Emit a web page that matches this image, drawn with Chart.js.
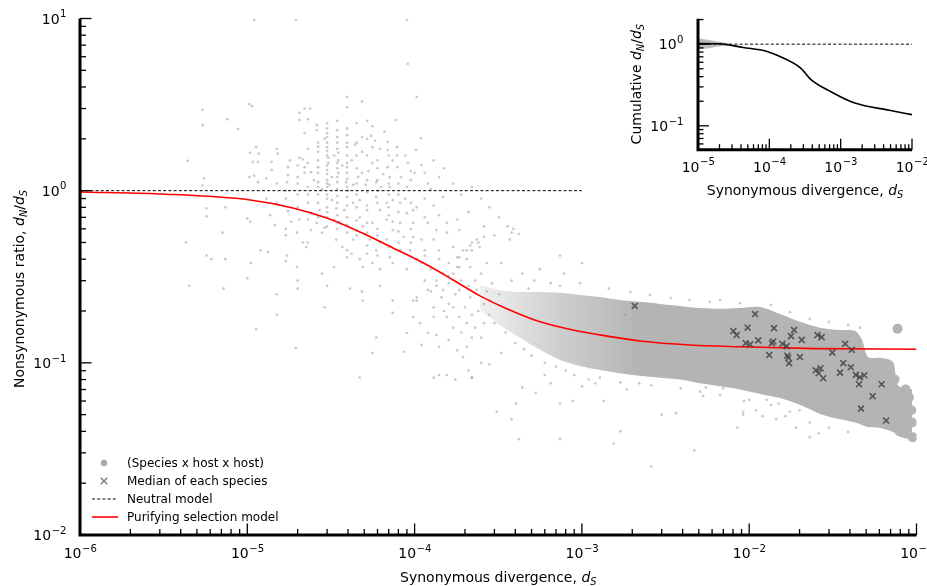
<!DOCTYPE html>
<html><head><meta charset="utf-8">
<script src="https://cdn.jsdelivr.net/npm/chart.js@4"></script>
<style>
html,body{margin:0;padding:0;background:#fff;}
#wrap{position:relative;width:927px;height:586px;overflow:hidden;}
#main{position:absolute;left:0;top:0;}
#inset{position:absolute;left:600px;top:0;}
</style></head><body>
<div id="wrap">
<canvas id="main" width="927" height="586"></canvas>
<canvas id="inset" width="327" height="210"></canvas>
</div>
<script>
// ================= MAIN PLOT DATA =================
const xTickValues = [1e-6, 1e-5, 1e-4, 1e-3, 1e-2, 1e-1];
const xTickExps   = ['-6', '-5', '-4', '-3', '-2', '-1'];
const yTickValues = [1e-2, 1e-1, 1e0, 1e1];
const yTickExps   = ['-2', '-1', '0', '1'];

// Purifying selection model (red curve)
const purifyX = [1e-6, 3.0e-6, 1.04e-5, 1.87e-5, 2.99e-5, 4.72e-5, 7.43e-5, 1.19e-4, 1.70e-4, 2.46e-4, 3.56e-4, 5.62e-4, 8.85e-4, 1.41e-3, 2.22e-3, 4.43e-3, 8.81e-3, 2.5e-2, 0.1];
const purifyY = [0.983, 0.957, 0.883, 0.794, 0.693, 0.575, 0.465, 0.370, 0.303, 0.245, 0.206, 0.173, 0.155, 0.143, 0.134, 0.127, 0.124, 0.121, 0.120];

// Neutral model (dashed)
const neutralX = [1e-6, 1e-3];
const neutralY = [1, 1];

// Dense core of the (species x host x host) cloud
const coreX     = [2.46e-4, 3.24e-4, 4.26e-4, 5.62e-4, 7.40e-4, 9.75e-4, 1.28e-3, 1.69e-3, 2.22e-3, 2.93e-3, 3.86e-3, 5.08e-3, 6.68e-3, 8.81e-3, 1.16e-2, 1.53e-2, 2.01e-2, 2.65e-2, 3.49e-2, 4.29e-2, 4.72e-2, 5.13e-2, 6.05e-2, 7.24e-2, 7.74e-2, 9.40e-2];
const coreUpper = [0.283, 0.265, 0.258, 0.258, 0.255, 0.248, 0.241, 0.232, 0.226, 0.220, 0.214, 0.208, 0.206, 0.208, 0.211, 0.192, 0.173, 0.160, 0.155, 0.153, 0.136, 0.108, 0.107, 0.101, 0.074, 0.070];
const coreLower = [0.203, 0.166, 0.140, 0.119, 0.104, 0.096, 0.091, 0.087, 0.084, 0.082, 0.080, 0.076, 0.073, 0.070, 0.066, 0.0625, 0.057, 0.0505, 0.047, 0.045, 0.0436, 0.0424, 0.0419, 0.0397, 0.0376, 0.0357];

// Individual (species x host x host) points  [dS, dN/dS]
const pairPoints = [
[1.1e-5,9.8],[1.95e-5,9.8],[9.0e-5,9.8],[9.1e-5,5.45],[1.03e-4,3.5],
[5.4e-6,2.95],[5.4e-6,2.4],[7.6e-6,2.6],[8.8e-6,2.28],[4.4e-6,1.49],[5.5e-6,1.18],[5.4e-6,1.07],
[1.03e-5,3.18],[1.07e-5,3.1],[1.13e-5,1.79],[1.04e-5,1.66],[1.17e-5,1.64],[1.08e-5,1.47],[1.16e-5,1.47],[1.03e-5,1.2],[1.1e-5,1.22],[1.16e-5,1.12],[1.3e-5,1.18],[1.4e-5,1.47],[1.5e-5,1.75],[1.52e-5,1.64],[1.4e-5,1.32],
[2.05e-5,2.83],[2.2e-5,3.0],[2.37e-5,3.0],[2.05e-5,2.57],[2.2e-5,2.16],[2.15e-5,1.52],[2.2e-5,1.37],[2.2e-5,1.27],[1.8e-5,1.5],[1.75e-5,1.37],[1.75e-5,1.23],[1.73e-5,1.12],[2.0e-5,1.1],[2.05e-5,1.55],[2.4e-5,1.28],
[2.6e-5,2.4],[2.6e-5,2.25],[2.65e-5,1.9],[2.65e-5,1.68],[2.65e-5,1.37],[2.65e-5,1.27],[2.65e-5,1.12],
[3.0e-5,2.47],[3.0e-5,2.16],[3.0e-5,1.79],[3.05e-5,1.55],[3.05e-5,1.45],[3.0e-5,1.32],[3.0e-5,1.15],
[3.45e-5,2.54],[3.45e-5,2.25],[3.45e-5,1.9],[3.5e-5,1.66],[3.5e-5,1.5],[3.5e-5,1.27],
[3.95e-5,3.5],[3.95e-5,3.05],[3.95e-5,2.3],[3.95e-5,1.79],[3.95e-5,1.6],[3.95e-5,1.37],[3.95e-5,1.27],[3.9e-5,1.12],
[4.5e-5,2.47],[4.85e-5,3.3],[4.85e-5,2.05],[4.85e-5,1.68],[4.85e-5,1.27],[5.2e-5,2.54],[5.6e-5,2.37],[5.5e-5,2.08],[5.6e-5,1.79],[5.6e-5,1.45],[6.2e-5,1.75],[6.9e-5,1.92],[6.9e-5,1.72],[6.9e-5,1.37],[7.1e-5,1.2],[7.7e-5,2.57],[7.85e-5,1.79],[7.85e-5,1.6],[7.9e-5,1.37],[9.1e-5,1.45],[1.02e-4,1.72],[1.09e-4,2.02],[1.1e-4,1.41],[1.15e-4,1.27],[1.0e-4,1.27],[9.0e-5,1.05],[7.1e-5,1.05],[5.9e-5,1.12],[5.1e-5,1.08],[4.3e-5,1.08],[3.1e-5,1.08],[2.5e-5,1.15],[1.5e-5,1.1],
[3.2e-5,1.2],[3.7e-5,1.4],[4.2e-5,1.5],[4.6e-5,1.2],[5.3e-5,1.3],[6.0e-5,1.5],[6.5e-5,1.25],[7.4e-5,1.5],[8.3e-5,1.2],[6.3e-5,1.05],[4.0e-5,1.0],[2.8e-5,1.02],[3.3e-5,1.6],[4.4e-5,1.85],[5.8e-5,1.95],[8.8e-5,1.6],[9.5e-5,1.3],[1.2e-4,1.1],[1.3e-4,1.5],[1.4e-4,1.2],[2.3e-5,1.75],[2.9e-5,2.0],[6.6e-5,2.2],[1.25e-4,1.02],
[1.5e-4,1.35],[1.7e-4,1.1],[2.2e-4,1.05],[1.9e-4,0.95],[2.5e-4,0.9],[2.8e-4,0.8],[3.2e-4,0.7],[3.6e-4,0.62],[2.6e-4,0.62],[3.0e-4,0.55],[3.9e-4,0.6],[4.2e-4,0.56],
[3.0e-5,0.9],[3.0e-5,0.95],[3.0e-5,1.05],[3.0e-5,1.1],[3.0e-5,1.25],[3.0e-5,1.4],[3.0e-5,1.6],[3.0e-5,1.7],[3.0e-5,1.9],[3.0e-5,2.05],[3.0e-5,2.3],[3.0e-5,0.8],[3.0e-5,0.75],[3.0e-5,0.62],
[3.45e-5,0.85],[3.45e-5,0.93],[3.45e-5,1.02],[3.45e-5,1.12],[3.45e-5,1.2],[3.45e-5,1.35],[3.45e-5,1.45],[3.45e-5,1.75],[3.45e-5,2.05],[3.45e-5,0.72],[3.45e-5,0.6],
[2.65e-5,0.85],[2.65e-5,0.95],[2.65e-5,1.05],[2.65e-5,1.5],[2.65e-5,1.8],[2.65e-5,0.7],
[3.95e-5,0.82],[3.95e-5,0.92],[3.95e-5,1.05],[3.95e-5,1.17],[3.95e-5,1.45],[3.95e-5,1.9],[3.95e-5,2.1],[3.95e-5,0.7],[3.95e-5,0.63],
[4.5e-5,0.8],[4.5e-5,0.95],[4.5e-5,1.1],[4.5e-5,1.35],[4.5e-5,1.6],[4.5e-5,1.9],[4.5e-5,0.67],[4.5e-5,0.55],
[5.2e-5,0.82],[5.2e-5,0.98],[5.2e-5,1.15],[5.2e-5,1.6],[5.2e-5,2.0],[5.2e-5,0.65],[5.2e-5,0.48],
[6.0e-5,0.85],[6.0e-5,1.0],[6.0e-5,1.15],[6.0e-5,1.35],[6.0e-5,0.6],[6.0e-5,0.55],[6.0e-5,0.42],
[7.0e-5,0.8],[7.0e-5,0.95],[7.0e-5,1.1],[7.0e-5,1.6],[7.0e-5,0.72],[7.0e-5,0.47],
[8.0e-5,0.75],[8.0e-5,0.95],[8.0e-5,1.1],[8.0e-5,0.58],[8.0e-5,0.5],
[9.5e-5,0.85],[9.5e-5,1.15],[9.5e-5,0.6],[9.5e-5,0.5],[1.15e-4,0.7],[1.15e-4,0.9],[1.15e-4,0.45],[1.15e-4,0.42],[1.4e-4,0.72],[1.4e-4,0.45],[1.4e-4,0.4],
[2.0e-5,0.8],[2.0e-5,0.95],[2.0e-5,1.2],[2.0e-5,1.4],[2.3e-5,0.95],[2.3e-5,1.05],[2.3e-5,1.45],[2.3e-5,2.6],[1.7e-5,0.9],[1.7e-5,1.0],[1.7e-5,0.6],
[5.7e-6,0.71],[5.7e-6,0.79],[7.4e-6,0.8],[7.1e-6,0.57],[4.3e-6,0.5],[5.7e-6,0.42],[6.1e-6,0.4],[7.4e-6,0.4],[4.5e-6,0.28],[7.2e-6,0.27],[1.0e-5,0.69],[1.04e-5,0.66],[1.05e-5,0.38],[1.0e-5,0.31],[1.13e-5,0.157],[1.5e-5,0.25],[1.5e-5,0.19],[1.95e-5,0.122],[1.2e-5,0.45],[1.33e-5,0.44],[1.37e-5,0.72],[1.3e-5,0.9],[1.5e-5,0.85],[1.46e-5,0.63],[1.7e-5,0.55],[1.75e-5,0.76],[1.83e-5,0.66],[1.98e-5,0.57],[1.73e-5,0.42],[1.7e-5,0.39],[1.98e-5,0.36],[2.0e-5,0.3],[2.0e-5,0.27],[2.3e-5,0.5],[2.25e-5,0.47],[2.15e-5,0.5],[2.3e-5,0.68],[2.4e-5,0.74],[2.6e-5,0.65],[2.8e-5,0.57],[2.9e-5,0.61],[3.0e-5,0.7],[3.2e-5,0.88],[3.4e-5,0.79],[3.8e-5,0.77],[4.3e-5,0.85],[4.7e-5,0.7],[4.9e-5,0.62],[5.2e-5,0.57],[5.9e-5,0.92],[6.2e-5,0.77],[6.8e-5,0.85],[7.4e-5,0.66],[8.2e-5,0.85],[8.8e-5,0.9],[9.0e-5,0.74],[9.8e-5,0.65],[1.03e-4,0.8],[1.3e-4,0.82],[1.48e-4,0.92],[1.56e-4,0.65],[1.8e-4,0.68],[2.1e-4,0.75],
[3.4e-5,0.52],[3.7e-5,0.47],[3.95e-5,0.45],[4.2e-5,0.43],[3.95e-5,0.41],[4.7e-5,0.4],[4.9e-5,0.36],[5.6e-5,0.38],[6.2e-5,0.35],[7.1e-5,0.41],[7.4e-5,0.38],[8.2e-5,0.45],[9.0e-5,0.35],[3.3e-5,0.36],[2.8e-5,0.33],[3.0e-5,0.28],[4.1e-5,0.27],[4.85e-5,0.26],[6.2e-5,0.28],[2.9e-5,0.21],[4.9e-5,0.23],[7.4e-5,0.23],[1.03e-4,0.24],[1.03e-4,0.23],[9.8e-5,0.185],[7.4e-5,0.195],[5.9e-5,0.14],[5.6e-5,0.114],[4.7e-5,0.082],[8.6e-5,0.116],[9.0e-5,0.149],[1.1e-4,0.127],[1.2e-4,0.149],[1.35e-4,0.145],[1.4e-4,0.124],[1.6e-4,0.136],[1.8e-4,0.118],[1.95e-4,0.108],[2.05e-4,0.124],[2.2e-4,0.14],[2.1e-4,0.09],[2.2e-4,0.082],[1.75e-4,0.08],[1.3e-4,0.082],[1.4e-4,0.085],[1.08e-4,0.17],[1.3e-4,0.185],[1.56e-4,0.185],[1.7e-4,0.21],[1.85e-4,0.185],[2.05e-4,0.17],[9.8e-5,0.23],[1.2e-4,0.265],[1.35e-4,0.28],[1.48e-4,0.265],[1.6e-4,0.29],[1.85e-4,0.265],[2.15e-4,0.24],[2.35e-4,0.265],
[1.15e-4,0.3],[1.25e-4,0.26],[1.45e-4,0.24],[1.6e-4,0.22],[1.75e-4,0.25],[1.9e-4,0.3],[2.1e-4,0.28],[2.3e-4,0.3],[2.5e-4,0.33],[2.4e-4,0.2],[2.2e-4,0.19],[2.0e-4,0.21],[1.7e-4,0.16],[1.9e-4,0.15],[2.3e-4,0.16],[2.5e-4,0.14],[2.6e-4,0.17],[1.5e-4,0.2],[1.3e-4,0.21],[2.8e-4,0.23],
[1.7e-4,0.47],[1.85e-4,0.41],[2.05e-4,0.45],[2.2e-4,0.5],[2.4e-4,0.5],[1.8e-4,0.36],[2.15e-4,0.36],[1.6e-4,0.32],[1.48e-4,0.33],[1.35e-4,0.3],[1.25e-4,0.35],[1.1e-4,0.38],[1.03e-4,0.4],[9.4e-5,0.45],[1.3e-4,0.52],[1.1e-4,0.52],[9.8e-5,0.54],[8.6e-5,0.54],[7.4e-5,0.59],[6.8e-5,0.52],[6.2e-5,0.5],[5.9e-5,0.45],[5.2e-5,0.43],[5.4e-5,0.52],[4.3e-5,0.52],[3.95e-5,0.57],[4.5e-5,0.59],[5.6e-5,0.65],[6.8e-5,0.68],[8.2e-5,0.65],[9.8e-5,0.77],[1.2e-4,0.65],[1.35e-4,0.59],[1.56e-4,0.57],[1.85e-4,0.59],[4.7e-5,0.88],[5.2e-5,0.77],[7.4e-5,0.88],[3.55e-5,0.66],[3.3e-5,0.68],[2.7e-5,0.77],[2.3e-5,0.85],[2.05e-5,0.68],[2.4e-5,0.59],
[1.6e-4,0.38],[1.8e-4,0.41],[1.95e-4,0.45],[2.15e-4,0.48],[2.35e-4,0.52],[2.6e-4,0.54],[2.2e-4,0.45],[2.45e-4,0.47],[1.85e-4,0.36],[1.7e-4,0.33],[2.05e-4,0.4],[3.8e-4,0.57],[3.7e-4,0.52],[2.7e-4,0.38],
[3.3e-4,0.38],[4.4e-4,0.33],[5.6e-4,0.35],[7.8e-4,0.33],[1.0e-3,0.38],[7.4e-4,0.42],[1.8e-3,0.19],
[3.1e-4,0.052],[3.8e-4,0.047],[4.2e-4,0.036],[4.05e-4,0.058],[4.4e-4,0.072],[5.3e-4,0.067],[6.5e-4,0.076],[7.4e-4,0.058],[8.8e-4,0.06],[1.0e-3,0.073],[1.2e-3,0.076],[1.35e-3,0.06],[1.55e-3,0.034],[1.85e-3,0.07],[2.2e-3,0.076],[3.0e-3,0.05],[3.65e-3,0.051],[5.3e-3,0.064],[2.5e-4,0.1],[2.2e-4,0.082],[1.56e-4,0.085],[2.8e-4,0.098],[3.3e-4,0.114],
[5.5e-3,0.072],[7.0e-3,0.071],[8.5e-3,0.042],[9.2e-3,0.05],[1.1e-2,0.053],[1.2e-2,0.049],[9.3e-3,0.06],[1.27e-2,0.061],[1.5e-2,0.058],[1.65e-2,0.049],[1.9e-2,0.042],[2.3e-2,0.037],[2.6e-2,0.039],[2.0e-2,0.053],[1.45e-2,0.047],[9.2e-3,0.052],[2.6e-3,0.025],[4.7e-3,0.031],[1.7e-3,0.04],[7.4e-4,0.036],
[7.4e-4,0.28],[9.75e-4,0.29],[1.45e-3,0.27],[1.95e-3,0.258],[2.55e-3,0.248],[3.4e-3,0.238],[4.4e-3,0.232],[5.8e-3,0.226],[6.7e-3,0.232],[8.8e-3,0.222],[1.35e-2,0.217],[1.75e-2,0.197],[2.3e-2,0.18],[3.0e-2,0.173],[3.9e-2,0.166],[4.6e-2,0.16],
[1.28e-3,0.082],[1.7e-3,0.077],[2.6e-3,0.074],[3.9e-3,0.071],[5.1e-3,0.068],[6.7e-3,0.065],[1.0e-2,0.061],[1.35e-2,0.057],[1.75e-2,0.052],[2.3e-2,0.045],[3.0e-2,0.042],[3.9e-2,0.0397],
[3.5e-4,0.15],[4.0e-4,0.13],[4.5e-4,0.12],[5.0e-4,0.11],[6.0e-4,0.1],[7.0e-4,0.095],[8.0e-4,0.09],[3.0e-4,0.17],[2.8e-4,0.19],[2.6e-4,0.22],[3.2e-4,0.25],[4.8e-4,0.27],[6.5e-4,0.29],[5.2e-4,0.3],[2.9e-4,0.29],[3.8e-4,0.3],[2.7e-4,0.26],[6.0e-4,0.085],[9.0e-4,0.085],[1.1e-3,0.08]
];

// Large overlapping blobs at the high-divergence edge
const pairBlobs = [[7.7e-2,0.158],[7.4e-2,0.08],[8.6e-2,0.07],[9.3e-2,0.053],[8.6e-2,0.044],[9.5e-2,0.037],[8.0e-2,0.06],[9.0e-2,0.063],[9.4e-2,0.045]];

// Median of each species
const speciesMedians = [
[2.07e-3,0.214],[1.084e-2,0.192],[8.04e-3,0.153],[8.41e-3,0.145],[9.79e-3,0.160],[9.53e-3,0.130],[1.012e-2,0.128],[1.132e-2,0.135],
[1.406e-2,0.159],[1.393e-2,0.133],[1.365e-2,0.130],[1.318e-2,0.111],[1.578e-2,0.129],[1.675e-2,0.125],[1.778e-2,0.143],[1.854e-2,0.155],
[2.06e-2,0.136],[1.69e-2,0.110],[1.714e-2,0.107],[1.73e-2,0.0995],[2.01e-2,0.108],[2.56e-2,0.145],[2.71e-2,0.141],[2.50e-2,0.0905],
[2.60e-2,0.0870],[2.67e-2,0.0930],[2.77e-2,0.0814],[3.14e-2,0.1146],[3.49e-2,0.0877],[3.65e-2,0.0995],[3.75e-2,0.129],[4.10e-2,0.119],
[4.05e-2,0.0942],[4.34e-2,0.0851],[4.59e-2,0.0825],[4.88e-2,0.0847],[4.53e-2,0.0751],[6.19e-2,0.0751],[5.47e-2,0.0640],[4.66e-2,0.0542],[6.58e-2,0.0462]
];

// ================= INSET DATA =================
const insetXTickValues = [1e-5, 1e-4, 1e-3, 1e-2];
const insetXTickExps   = ['-5', '-4', '-3', '-2'];
const insetYTickValues = [1e-1, 1e0];
const insetYTickExps   = ['-1', '0'];
const cumX = [1e-5, 2.0e-5, 4.3e-5, 9.1e-5, 1.29e-4, 2.75e-4, 3.8e-4, 7.4e-4, 1.58e-3, 4.8e-3, 1e-2];
const cumY = [1.02, 1.01, 0.91, 0.82, 0.73, 0.51, 0.37, 0.26, 0.19, 0.155, 0.137];
const cumBandX = [1e-5, 1.5e-5, 2e-5, 3e-5, 4.3e-5];
const cumBandUpper = [1.18, 1.12, 1.07, 1.0, 0.92];
const cumBandLower = [0.87, 0.9, 0.94, 0.95, 0.90];
const insetNeutralX = [1e-5, 1e-2];
const insetNeutralY = [1, 1];

// ================= HELPERS =================
const FONT = '"DejaVu Sans"';
const zip = (xs, ys) => xs.map((x, i) => ({x, y: ys[i]}));
const pts = arr => arr.map(([x, y]) => ({x, y}));

function drawRich(ctx, parts, x, y, rot, size) {
  const sub = size * 0.7;
  const fontOf = k => (k === 'n' ? '' : 'italic ') + (k === 's' ? sub : size) + 'px ' + FONT;
  let w = 0;
  parts.forEach(([t, k]) => { ctx.font = fontOf(k); w += ctx.measureText(t).width; });
  ctx.save();
  ctx.translate(x, y); ctx.rotate(rot);
  ctx.textAlign = 'left'; ctx.textBaseline = 'alphabetic'; ctx.fillStyle = '#000';
  let cx = -w / 2;
  parts.forEach(([t, k]) => {
    ctx.font = fontOf(k);
    ctx.fillText(t, cx, k === 's' ? size * 0.24 : 0);
    cx += ctx.measureText(t).width;
  });
  ctx.restore();
}

// "10" with a raised exponent (tick label)
function drawPow(ctx, exp, x, y, align, size) {
  const es = size * 0.72;
  const e = exp.replace('-', '\u2212');
  ctx.font = size + 'px ' + FONT; const wb = ctx.measureText('10').width;
  ctx.font = es + 'px ' + FONT; const we = ctx.measureText(e).width;
  const x0 = align === 'center' ? x - (wb + we) / 2 : x - (wb + we);
  ctx.textAlign = 'left'; ctx.textBaseline = 'alphabetic'; ctx.fillStyle = '#000';
  ctx.font = size + 'px ' + FONT; ctx.fillText('10', x0, y);
  ctx.font = es + 'px ' + FONT; ctx.fillText(e, x0 + wb + 0.5, y - size * 0.45);
}

const decoPlugin = {
  id: 'deco',
  afterDatasetsDraw(chart, args, o) {
    const ctx = chart.ctx, xs = chart.scales.x, ys = chart.scales.y, a = chart.chartArea;
    ctx.save();
    ctx.strokeStyle = '#000';
    ctx.lineWidth = 1.3;
    const ticks = (scale, horiz) => {
      const lo = Math.floor(Math.log10(scale.min) + 1e-9), hi = Math.ceil(Math.log10(scale.max) - 1e-9);
      for (let e = lo; e <= hi; e++) for (let m = 1; m <= 9; m++) {
        const v = m * Math.pow(10, e);
        if (v < scale.min * 0.999 || v > scale.max * 1.001) continue;
        const len = m === 1 ? o.major : o.minor;
        const p = scale.getPixelForValue(v);
        ctx.beginPath();
        if (horiz) { ctx.moveTo(p, a.bottom); ctx.lineTo(p, a.bottom - len); }
        else { ctx.moveTo(a.left, p); ctx.lineTo(a.left + len, p); }
        ctx.stroke();
      }
    };
    ticks(xs, true); ticks(ys, false);
    ctx.lineWidth = 3;
    ctx.lineCap = 'butt';
    ctx.beginPath();
    ctx.moveTo(a.left, a.top); ctx.lineTo(a.left, a.bottom); ctx.lineTo(a.right, a.bottom);
    ctx.stroke();
    // tick labels
    o.xLabels.values.forEach((v, i) => drawPow(ctx, o.xLabels.exps[i], xs.getPixelForValue(v), a.bottom + o.xLabels.dy, 'center', o.tickSize));
    o.yLabels.values.forEach((v, i) => drawPow(ctx, o.yLabels.exps[i], a.left - o.yLabels.dx, ys.getPixelForValue(v) + 5, 'right', o.tickSize));
    // axis titles
    drawRich(ctx, o.xTitle, (a.left + a.right) / 2, o.xTitleY, 0, o.titleSize);
    drawRich(ctx, o.yTitle, o.yTitleX, o.yTitleCY != null ? o.yTitleCY : (a.top + a.bottom) / 2, -Math.PI / 2, o.titleSize);
    // legend
    if (o.legend) {
      const L = o.legend;
      L.items.forEach((it, i) => {
        const yy = L.y + i * L.dy, mx = L.x;
        ctx.save();
        if (it.kind === 'dot') {
          ctx.fillStyle = '#aaaaaa'; ctx.beginPath(); ctx.arc(mx, yy, 3.2, 0, Math.PI * 2); ctx.fill();
        } else if (it.kind === 'x') {
          ctx.strokeStyle = '#777'; ctx.lineWidth = 1.3; ctx.beginPath();
          ctx.moveTo(mx - 3.3, yy - 3.3); ctx.lineTo(mx + 3.3, yy + 3.3);
          ctx.moveTo(mx + 3.3, yy - 3.3); ctx.lineTo(mx - 3.3, yy + 3.3); ctx.stroke();
        } else if (it.kind === 'dash') {
          ctx.strokeStyle = '#000'; ctx.lineWidth = 1; ctx.setLineDash([3, 2.2]);
          ctx.beginPath(); ctx.moveTo(mx - 12, yy); ctx.lineTo(mx + 14, yy); ctx.stroke();
        } else {
          ctx.strokeStyle = '#ff0000'; ctx.lineWidth = 1.6;
          ctx.beginPath(); ctx.moveTo(mx - 12, yy); ctx.lineTo(mx + 14, yy); ctx.stroke();
        }
        ctx.restore();
        ctx.font = L.size + 'px ' + FONT;
        ctx.textBaseline = 'middle'; ctx.textAlign = 'left'; ctx.fillStyle = '#000';
        ctx.fillText(it.label, L.textX, yy + 0.5);
      });
    }
    ctx.restore();
  }
};

function logAxis(pos, min, max, fitFn) {
  return {
    type: 'logarithmic', position: pos, min, max,
    afterFit: fitFn,
    grid: {display: false, drawTicks: false},
    border: {display: false},
    ticks: {display: false}
  };
}

// ================= MAIN CHART =================
new Chart(document.getElementById('main'), {
  type: 'scatter',
  data: {
    datasets: [
      { label: 'Median of each species', data: pts(speciesMedians), order: 0,
        pointStyle: 'crossRot', pointRadius: 4.2, pointBorderWidth: 1.6,
        borderColor: 'rgba(60,60,60,0.8)', backgroundColor: 'rgba(60,60,60,0.8)' },
      { type: 'line', label: 'Purifying selection model', data: zip(purifyX, purifyY), order: 1,
        borderColor: '#ff0000', borderWidth: 1.6, pointRadius: 0, fill: false, cubicInterpolationMode: 'monotone' },
      { type: 'line', label: 'Neutral model', data: zip(neutralX, neutralY), order: 2,
        borderColor: '#000', borderWidth: 1, borderDash: [3, 2.2], pointRadius: 0, fill: false },
      { label: '(Species x host x host) blobs', data: pts(pairBlobs), order: 3,
        pointRadius: 5, borderWidth: 0, backgroundColor: 'rgb(180,180,180)' },
      { label: '(Species x host x host)', data: pts(pairPoints), order: 4,
        pointRadius: 1.35, borderWidth: 0, backgroundColor: 'rgba(150,150,150,0.5)' },
      { type: 'line', label: 'core upper', data: zip(coreX, coreUpper), order: 5,
        borderColor: 'rgba(0,0,0,0)', borderWidth: 0, pointRadius: 0, fill: '+1', tension: 0.3,
        backgroundColor: (c) => {
          const ch = c.chart, xs = ch.scales && ch.scales.x;
          if (!xs || !ch.chartArea) return 'rgb(180,180,180)';
          const x0 = xs.getPixelForValue(coreX[0]), x1 = xs.getPixelForValue(coreX[8]);
          const g = ch.ctx.createLinearGradient(x0, 0, x1, 0);
          g.addColorStop(0, 'rgba(180,180,180,0.2)');
          g.addColorStop(0.5, 'rgba(180,180,180,0.65)');
          g.addColorStop(1, 'rgba(180,180,180,1)');
          return g;
        } },
      { type: 'line', label: 'core lower', data: zip(coreX, coreLower), order: 6,
        borderColor: 'rgba(0,0,0,0)', borderWidth: 0, pointRadius: 0, fill: false, tension: 0.3 }
    ]
  },
  options: {
    responsive: false, animation: false, events: [],
    layout: {padding: {left: 0, right: 10.5, top: 18.5, bottom: 0}},
    scales: {
      x: logAxis('bottom', 1e-6, 1e-1, s => { s.height = 51; s.paddingLeft = 0; s.paddingRight = 0; }),
      y: logAxis('left', 1e-2, 1e1, s => { s.width = 80; s.paddingTop = 0; s.paddingBottom = 0; })
    },
    plugins: {
      legend: {display: false}, tooltip: {enabled: false},
      deco: {
        major: 11.5, minor: 6, titleSize: 14, tickSize: 14,
        xLabels: {values: xTickValues, exps: xTickExps, dy: 23},
        yLabels: {values: yTickValues, exps: yTickExps, dx: 14},
        xTitle: [['Synonymous divergence, ', 'n'], ['d', 'i'], ['S', 's']], xTitleY: 582,
        yTitle: [['Nonsynonymous ratio, ', 'n'], ['d', 'i'], ['N', 's'], ['/', 'n'], ['d', 'i'], ['S', 's']],
        yTitleX: 24, yTitleCY: 289,
        legend: {x: 104, textX: 127, y: 463, dy: 18, size: 12, items: [
          {kind: 'dot', label: '(Species x host x host)'},
          {kind: 'x', label: 'Median of each species'},
          {kind: 'dash', label: 'Neutral model'},
          {kind: 'line', label: 'Purifying selection model'}
        ]}
      }
    }
  },
  plugins: [decoPlugin]
});

// ================= INSET CHART =================
new Chart(document.getElementById('inset'), {
  type: 'scatter',
  data: {
    datasets: [
      { type: 'line', label: 'Cumulative dN/dS', data: zip(cumX, cumY), order: 0,
        borderColor: '#000', borderWidth: 1.6, pointRadius: 0, fill: false, cubicInterpolationMode: 'monotone' },
      { type: 'line', label: 'Neutral', data: zip(insetNeutralX, insetNeutralY), order: 1,
        borderColor: '#000', borderWidth: 1, borderDash: [3, 2.2], pointRadius: 0, fill: false },
      { type: 'line', label: 'band upper', data: zip(cumBandX, cumBandUpper), order: 2,
        borderColor: 'rgba(0,0,0,0)', borderWidth: 0, pointRadius: 0, fill: '+1',
        backgroundColor: 'rgba(150,150,150,0.65)', cubicInterpolationMode: 'monotone' },
      { type: 'line', label: 'band lower', data: zip(cumBandX, cumBandLower), order: 3,
        borderColor: 'rgba(0,0,0,0)', borderWidth: 0, pointRadius: 0, fill: false, cubicInterpolationMode: 'monotone' }
    ]
  },
  options: {
    responsive: false, animation: false, events: [],
    layout: {padding: {left: 0, right: 15, top: 18.7, bottom: 0}},
    scales: {
      x: logAxis('bottom', 1e-5, 1e-2, s => { s.height = 60.3; s.paddingLeft = 0; s.paddingRight = 0; }),
      y: logAxis('left', 0.051, 2.05, s => { s.width = 98; s.paddingTop = 0; s.paddingBottom = 0; })
    },
    plugins: {
      legend: {display: false}, tooltip: {enabled: false},
      deco: {
        major: 11, minor: 5.5, titleSize: 14, tickSize: 14,
        xLabels: {values: insetXTickValues, exps: insetXTickExps, dy: 22},
        yLabels: {values: insetYTickValues, exps: insetYTickExps, dx: 15},
        xTitle: [['Synonymous divergence, ', 'n'], ['d', 'i'], ['S', 's']], xTitleY: 195,
        yTitle: [['Cumulative ', 'n'], ['d', 'i'], ['N', 's'], ['/', 'n'], ['d', 'i'], ['S', 's']],
        yTitleX: 41
      }
    }
  },
  plugins: [decoPlugin]
});
</script>
</body></html>
